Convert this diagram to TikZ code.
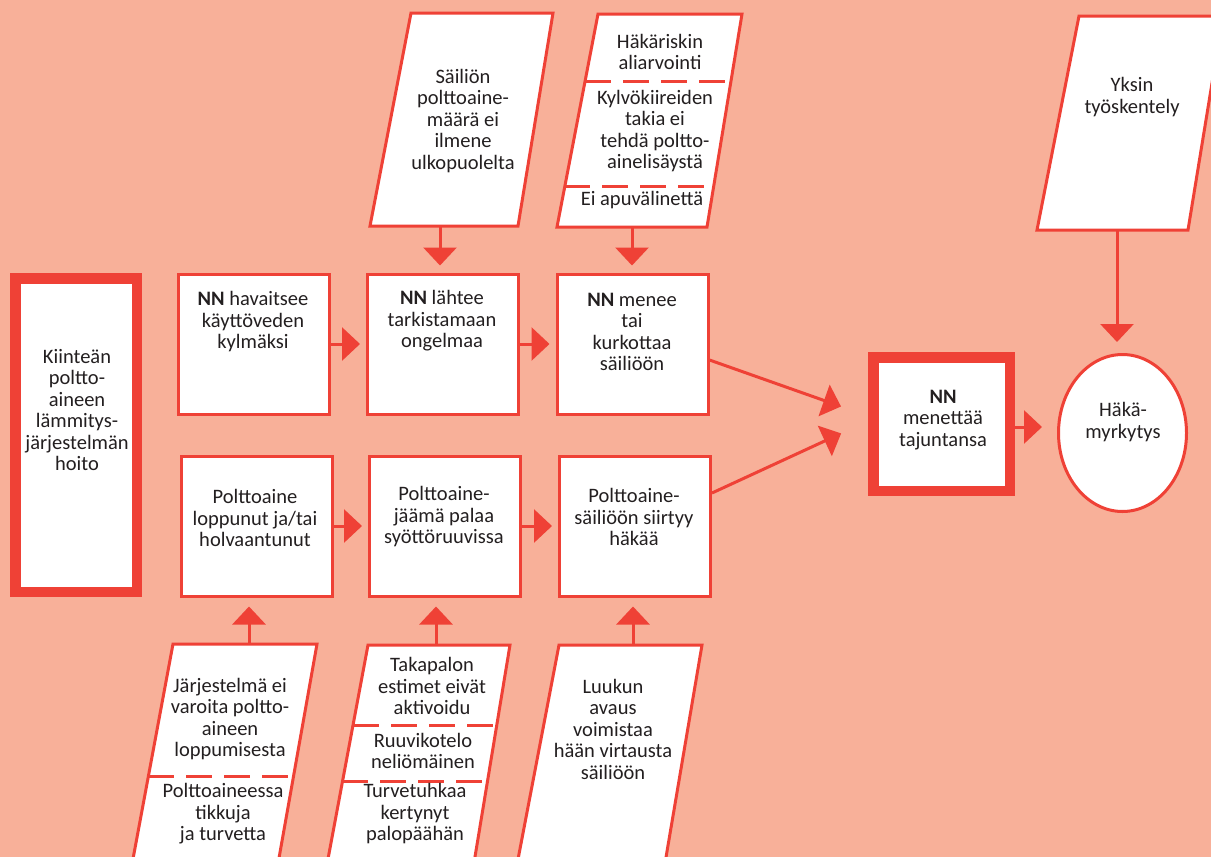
\documentclass[tikz,border=0pt]{standalone}
\usepackage{fontspec}
\setmainfont{Carlito}
\usepackage{tikz}
\usetikzlibrary{positioning}
\usetikzlibrary{arrows.meta,shapes.geometric}
\definecolor{salmon}{RGB}{248,176,153}
\definecolor{brick}{RGB}{239,65,54}
\definecolor{ink}{RGB}{35,31,32}

\begin{document}
\begin{tikzpicture}[x=1pt,y=-1pt,
  box/.style={draw=brick,fill=white,line width=3pt,minimum width=151pt,minimum height=140pt,inner sep=0pt},
  bigbox/.style={draw=brick,fill=white,line width=10.5pt,inner sep=0pt},
  para/.style={draw=brick,fill=white,line width=3pt},
  divider/.style={draw=brick,line width=3pt,dash pattern=on 26pt off 12pt},
  txt/.style={align=center,text=ink,inner sep=0pt,font=\fontsize{20.5}{21.5}\selectfont},
  arr/.style={draw=brick,line width=3pt,-{Triangle[length=18pt,width=33pt]}}]
 \useasboundingbox (0,0) rectangle (1211,857);
 \fill[salmon] (0,0) rectangle (1211,857);
 \clip (0,0) rectangle (1211,857);

 \node[bigbox,minimum width=121.5pt,minimum height=313.5pt] (hoito) at (76,435) {};
 \node[txt] (hoito-t) at (77,410) {Kiinteän\\poltto-\\aineen\\lämmitys-\\järjestelmän\\hoito};

 \node[box] (havaitsee) at (254,344) {};
 \node[txt] (havaitsee-t) at (253,322) {\textbf{NN} havaitsee\\käyttöveden\\kylmäksi};
 \node[box] (lahtee) at (443,344) {};
 \node[txt] (lahtee-t) at (442,321) {\textbf{NN} lähtee\\tarkistamaan\\ongelmaa};
 \node[box] (menee) at (632.5,344) {};
 \node[txt] (menee-t) at (632,332) {\textbf{NN} menee\\tai\\kurkottaa\\säiliöön};

 \node[box] (loppunut) at (256.5,526) {};
 \node[txt] (loppunut-t) at (255,518) {Polttoaine\\loppunut ja/tai\\holvaantunut};
 \node[box] (jaama) at (445,526) {};
 \node[txt] (jaama-t) at (444,517) {Polttoaine-\\jäämä palaa\\syöttöruuvissa};
 \node[box] (siirtyy) at (635,526) {};
 \node[txt] (siirtyy-t) at (634,517) {Polttoaine-\\säiliöön siirtyy\\häkää};

 \node[bigbox,minimum width=136.5pt,minimum height=133.5pt] (tajunta) at (941.5,424) {};
 \node[txt] (tajunta-t) at (943,420) {\textbf{NN}\\menettää\\tajuntansa};

 \node[ellipse,draw=brick,fill=white,line width=3pt,minimum width=128pt,minimum height=157pt,inner sep=0pt] (myrkytys) at (1122.5,433) {};
 \node[txt] (myrkytys-t) at (1123,422) {Häkä-\\myrkytys};

 \draw[para] (411,13) -- (553,13) -- (518,226) -- (370,226) -- cycle;
 \node[txt] (maara) at (463,121) {Säiliön\\polttoaine-\\määrä ei\\ilmene\\ulkopuolelta};
 \coordinate (maara-s) at (440,226);

 \draw[para] (598,14) -- (742,14) -- (707,227) -- (557,227) -- cycle;
 \draw[divider] (585,81) -- (731,81);
 \draw[divider] (564,186) -- (714,186);
 \node[txt] (aliarvio) at (660,52) {Häkäriskin\\aliarvointi};
 \node[txt] (kylvo) at (655,131) {Kylvökiireiden\\takia ei\\tehdä poltto-\\ainelisäystä};
 \node[txt] (apuvali) at (642,200) {Ei apuvälinettä};
 \coordinate (apuvali-s) at (632,227);

 \draw[para] (1079,16) -- (1223,16) -- (1188,230) -- (1037,230) -- cycle;
 \node[txt] (yksin) at (1132,97) {Yksin\\työskentely};
 \coordinate (yksin-s) at (1117,230);

 \draw[para] (173,644) -- (317,644) -- (276,875) -- (130,875) -- cycle;
 \draw[divider] (148,776) -- (294,776);
 \node[txt] (varoita) at (230,719) {Järjestelmä ei\\varoita poltto-\\aineen\\loppumisesta};
 \node[txt] (tikkuja) at (223,814) {Polttoaineessa\\tikkuja\\ja turvetta};
 \coordinate (varoita-n) at (249,644);

 \draw[para] (368,645) -- (510,645) -- (472,875) -- (325,875) -- cycle;
 \draw[divider] (353,725) -- (497,725);
 \draw[divider] (342,781) -- (488,781);
 \node[txt] (takapalo) at (432,686) {Takapalon\\estimet eivät\\aktivoidu};
 \node[txt] (kotelo) at (423,751) {Ruuvikotelo\\neliömäinen};
 \node[txt] (tuhka) at (415,814) {Turvetuhkaa\\kertynyt\\palopäähän};
 \coordinate (takapalo-n) at (436,645);

 \draw[para] (559,645) -- (702,645) -- (663,875) -- (515,875) -- cycle;
 \node[txt] (luukku) at (613,729) {Luukun\\avaus\\voimistaa\\hään virtausta\\säiliöön};
 \coordinate (luukku-n) at (633,645);

 \draw[arr,shorten >=6pt] (havaitsee) -- (lahtee);
 \draw[arr,shorten >=6pt] (lahtee) -- (menee);
 \draw[arr,shorten >=6pt] (loppunut) -- (jaama);
 \draw[arr,shorten >=6pt] (jaama) -- (siirtyy);
 \draw[arr,shorten >=28.6pt] ([yshift=-16pt]menee.east) -- ([yshift=8pt]tajunta.west);
 \draw[arr,shorten >=29.6pt] ([yshift=33pt]siirtyy.east) -- ([yshift=3pt]tajunta.west);
 \draw[arr,shorten >=15pt] ([yshift=-3pt]tajunta.east) -- ([yshift=-3pt]tajunta.east -| myrkytys.west);
 \draw[arr,shorten >=11pt] (yksin-s) -- (yksin-s |- myrkytys.north);
 \draw[arr,shorten >=7pt] (maara-s) -- (maara-s |- lahtee.north);
 \draw[arr,shorten >=7pt] (apuvali-s) -- (apuvali-s |- menee.north);
 \draw[arr,shorten >=9pt] (varoita-n) -- (varoita-n |- loppunut.south);
 \draw[arr,shorten >=9pt] (takapalo-n) -- (takapalo-n |- jaama.south);
 \draw[arr,shorten >=9pt] (luukku-n) -- (luukku-n |- siirtyy.south);
\end{tikzpicture}
\end{document}
